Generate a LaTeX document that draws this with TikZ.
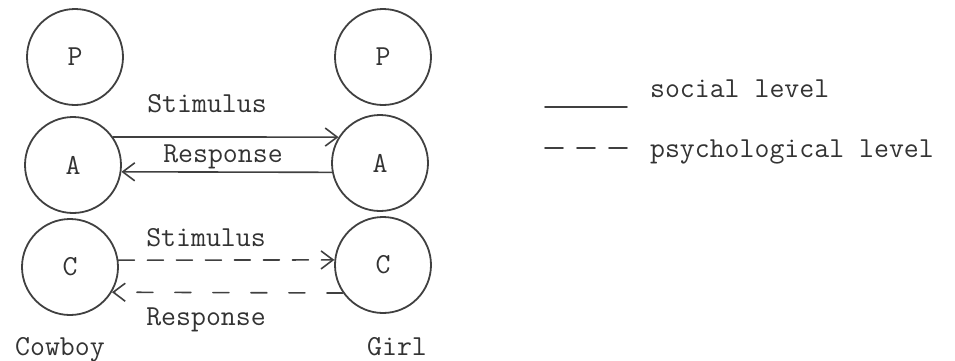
\documentclass[tikz,border=0pt]{standalone}
\usepackage{fontspec}
\usetikzlibrary{arrows.meta}
\begin{document}
\begin{tikzpicture}[x=0.5pt, y=-0.5pt, line cap=round, line join=round,
    font=\ttfamily\fontsize{14.5}{17}\selectfont,
    ego/.style={circle, draw=black!75, line width=0.9pt, minimum size=48pt, inner sep=0pt, text=black!80},
    social/.style={draw=black!75, line width=0.8pt, -{Straight Barb[length=6pt, width=9pt]}},
    psych/.style={social, dash pattern=on 8pt off 6.5pt},
    lbl/.style={anchor=base, text=black!80}]

    % Rahmen
    \useasboundingbox (0,0) rectangle (955,360);

    % Ich-Zustände des Cowboys
    \node[ego] (cowP) at (75,57) {P};
    \node[ego] (cowA) at (73,165) {A};
    \node[ego] (cowC) at (70,267) {C};

    % Ich-Zustände des Mädchens
    \node[ego] (girlP) at (383,57) {P};
    \node[ego] (girlA) at (380,163) {A};
    \node[ego] (girlC) at (383,265) {C};

    % soziale Ebene (A -- A)
    \draw[social] (cowA.35) -- (girlA.148);
    \draw[social] (girlA.191) -- (cowA.-8);
    \node[lbl] (stimA) at (207,112) {Stimulus};
    \node[lbl] (respA) at (223,162) {Response};

    % psychologische Ebene (C -- C)
    \draw[psych] (cowC.8) -- (girlC.174);
    \draw[psych, dash pattern=on 8pt off 11pt] (girlC.215) -- (cowC.-31);
    \node[lbl] (stimC) at (206,246) {Stimulus};
    \node[lbl] (respC) at (206,325) {Response};

    % Namen
    \node[lbl] (cowboy) at (60,355) {Cowboy};
    \node[lbl] (girl) at (397,355) {Girl};

    % Legende
    \coordinate (socA) at (545,107);
    \coordinate (socB) at (627,107);
    \coordinate (psyA) at (545,148);
    \coordinate (psyB) at (627,148);
    \draw[draw=black!75, line width=0.8pt] (socA) -- (socB);
    \draw[draw=black!75, line width=0.8pt, dash pattern=on 9pt off 7pt] (psyA) -- (psyB);
    \node[lbl, anchor=base west] (socTxt) at (643,97) {social level};
    \node[lbl, anchor=base west] (psyTxt) at (643,157) {psychological level};

\end{tikzpicture}
\end{document}
